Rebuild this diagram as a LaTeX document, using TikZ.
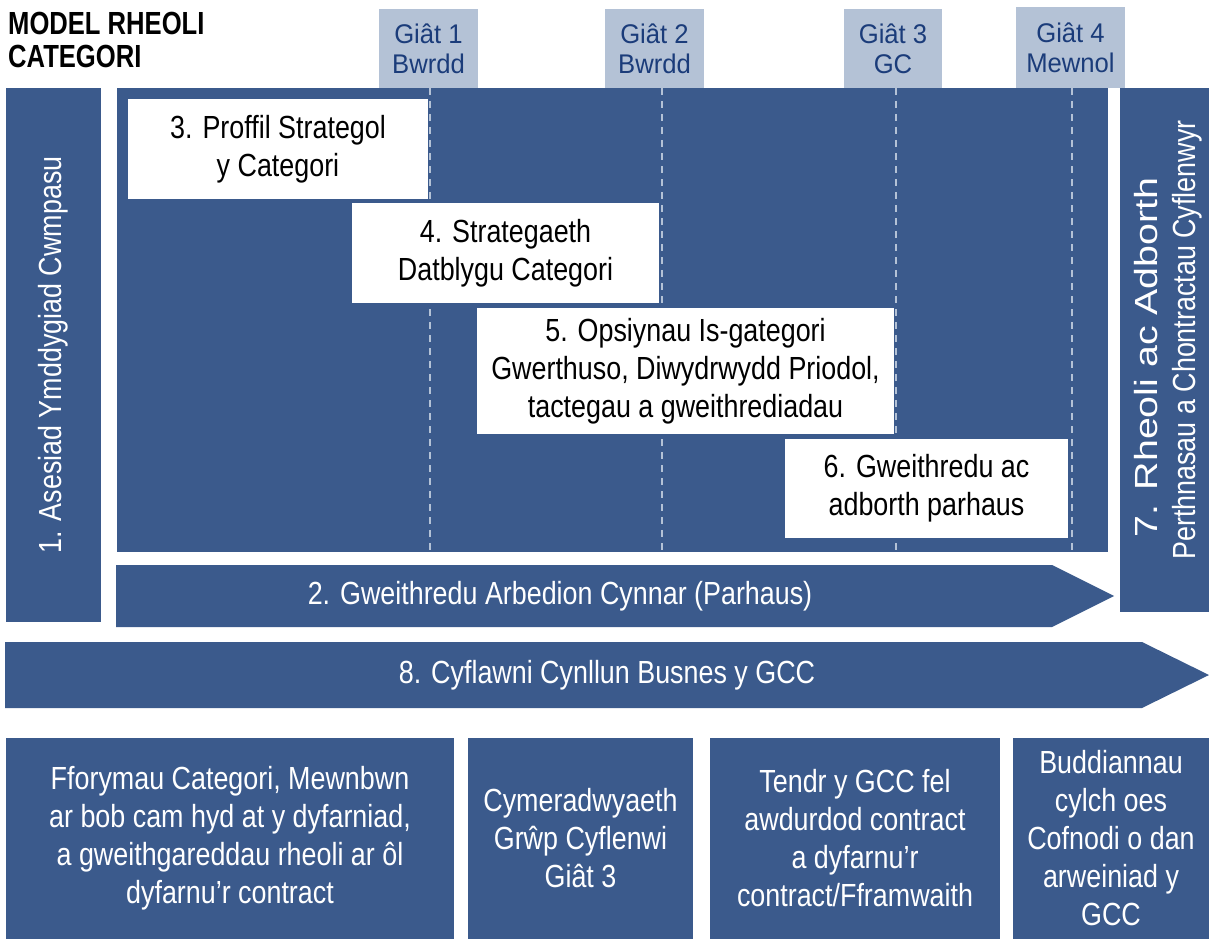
\documentclass[tikz,border=0pt]{standalone}
\usepackage{fontspec}
\setmainfont{Liberation Sans}
\newfontfamily\narrowfont[FakeStretch=0.84]{Liberation Sans}
\newfontfamily\widefont[FakeStretch=1.23]{Liberation Sans}
\newfontfamily\gatefont[FakeStretch=0.95]{Liberation Sans}
\newfontfamily\headfont[FakeStretch=0.8]{Liberation Sans}
\definecolor{navy}{RGB}{59,90,140}
\definecolor{gatefill}{RGB}{180,194,214}
\definecolor{gatetext}{RGB}{27,60,122}

\begin{document}
\begin{tikzpicture}[x=1pt,y=-1pt,
  box/.style={fill=navy,text=white,inner sep=0pt,align=center,
    font=\narrowfont\fontsize{32}{38}\selectfont},
  card/.style={fill=white,text=black,inner sep=0pt,align=center,
    font=\narrowfont\fontsize{32}{38}\selectfont},
  gate/.style={fill=gatefill,text=gatetext,inner sep=0pt,align=center,
    font=\gatefont\fontsize{27}{30}\selectfont},
  gateline/.style={gatefill,line width=2pt,dash pattern=on 7pt off 6pt}]
\useasboundingbox (0,0) rectangle (1209,939);
% Heading
\node[anchor=north west,inner sep=0pt,align=left,
  font=\headfont\bfseries\fontsize{32}{33}\selectfont] (title) at (8,12)
  {MODEL RHEOLI\\CATEGORI};
% Gates along the top
\node[gate,minimum width=99,minimum height=79] (g1) at (428.5,48.5) {Giât 1\\Bwrdd};
\node[gate,minimum width=99,minimum height=79] (g2) at (654.5,48.5) {Giât 2\\Bwrdd};
\node[gate,minimum width=98,minimum height=79] (g3) at (893,48.5) {Giât 3\\GC};
\node[gate,minimum width=109,minimum height=81] (g4) at (1070.5,47.5) {Giât 4\\Mewnol};
% Main panel with the gate lines
\node[fill=navy,inner sep=0pt,minimum width=991,minimum height=464] (panel) at (612.5,320) {};
\coordinate (d1) at (430,88);
\coordinate (d2) at (662,88);
\coordinate (d3) at (896,88);
\coordinate (d4) at (1072,88);
\foreach \d in {d1,d2,d3,d4}
  \draw[gateline] (\d) -- (\d |- panel.south);
% Steps 3 to 6
\node[card,minimum width=300,minimum height=100] (s3) at (278,149)
  {3. Proffil Strategol\\y Categori};
\node[card,minimum width=307,minimum height=100] (s4) at (505.5,253)
  {4. Strategaeth\\Datblygu Categori};
\node[card,minimum width=417,minimum height=126] (s5) at (685.5,371)
  {5. Opsiynau Is-gategori\\Gwerthuso, Diwydrwydd Priodol,\\tactegau a gweithrediadau};
\node[card,minimum width=283,minimum height=99] (s6) at (926.5,488.5)
  {6. Gweithredu ac\\adborth parhaus};
% Side columns
\node[box,rotate=90,minimum width=534,minimum height=95] (s1) at (53.5,355)
  {1. Asesiad Ymddygiad Cwmpasu};
\node[box,minimum width=89,minimum height=524] (s7) at (1164.5,350) {};
\node[box,fill=none,rotate=90,align=left] (s7text) at (1168,340)
  {\hspace*{22pt}{\widefont 7. Rheoli ac Adborth}\\Perthnasau a Chontractau Cyflenwyr};
% Long arrows
\fill[navy] (116,565) -- (1052,565) -- (1114,596) -- (1052,627) -- (116,627) -- cycle;
\node[box,fill=none] (s2) at (560,596) {2. Gweithredu Arbedion Cynnar (Parhaus)};
\fill[navy] (5,642) -- (1142,642) -- (1209,675) -- (1142,708) -- (5,708) -- cycle;
\node[box,fill=none] (s8) at (607,675) {8. Cyflawni Cynllun Busnes y GCC};
% Bottom row
\node[box,minimum width=448,minimum height=201] (bA) at (230,838.5)
  {Fforymau Categori, Mewnbwn\\ar bob cam hyd at y dyfarniad,\\a gweithgareddau rheoli ar ôl\\dyfarnu’r contract};
\node[box,minimum width=225,minimum height=201] (bB) at (580.5,838.5)
  {Cymeradwyaeth\\Grŵp Cyflenwi\\Giât 3};
\node[box,minimum width=290,minimum height=201] (bC) at (855,838.5)
  {Tendr y GCC fel\\awdurdod contract\\a dyfarnu’r\\contract/Fframwaith};
\node[box,minimum width=196,minimum height=201] (bD) at (1111,838.5)
  {Buddiannau\\cylch oes\\Cofnodi o dan\\arweiniad y\\GCC};
\end{tikzpicture}
\end{document}
